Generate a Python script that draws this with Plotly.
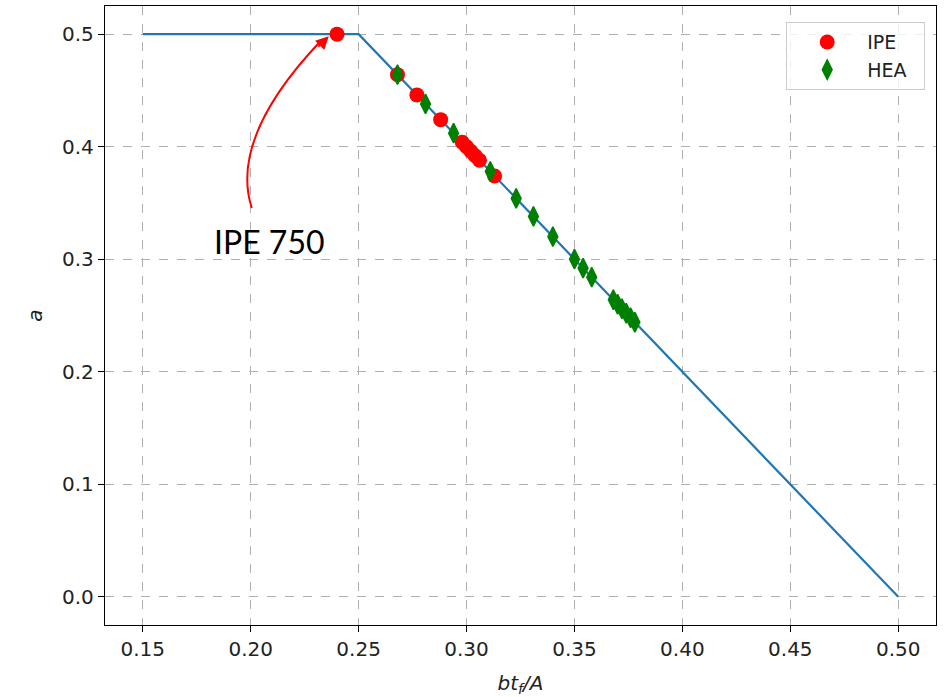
import plotly.graph_objects as go

# Limit curve
line_x = [0.15, 0.25, 0.50]
line_y = [0.50, 0.50, 0.00]

# IPE sections
ipe_x = [0.240, 0.268, 0.277, 0.288, 0.298, 0.300, 0.302, 0.304, 0.306, 0.313]
ipe_y = [0.500, 0.464, 0.446, 0.424, 0.404, 0.400, 0.396, 0.392, 0.388, 0.374]

# HEA sections
hea_x = [0.268, 0.281, 0.294, 0.311, 0.323, 0.331, 0.340, 0.350, 0.354, 0.358,
         0.368, 0.370, 0.372, 0.374, 0.376, 0.378]
hea_y = [0.464, 0.438, 0.412, 0.378, 0.354, 0.338, 0.320, 0.300, 0.292, 0.284,
         0.264, 0.260, 0.256, 0.252, 0.248, 0.244]

x_ticks = [0.15, 0.20, 0.25, 0.30, 0.35, 0.40, 0.45, 0.50]
y_ticks = [0.0, 0.1, 0.2, 0.3, 0.4, 0.5]

fig = go.Figure()
fig.add_trace(go.Scatter(x=line_x, y=line_y, mode="lines",
                         line=dict(color="#1f77b4", width=2.2), showlegend=False))
fig.add_trace(go.Scatter(x=ipe_x, y=ipe_y, mode="markers", name="IPE  ",
                         marker=dict(symbol="circle", color="red", size=15)))
fig.add_trace(go.Scatter(x=hea_x, y=hea_y, mode="markers", name="HEA  ",
                         marker=dict(symbol="diamond-tall", color="green", size=14,
                                     line=dict(color="green", width=1.5))))

# curved annotation arrow (quadratic curve) + arrowhead
fig.add_shape(type="path", xref="x", yref="y",
              path="M 0.2005,0.3455 Q 0.1899,0.4085 0.2330,0.4950",
              line=dict(color="red", width=2))
fig.add_annotation(x=0.2362, y=0.4982, xref="x", yref="y", text="",
                   showarrow=True, ax=-12, ay=12, arrowhead=2, arrowsize=1.3,
                   arrowwidth=2, arrowcolor="red", standoff=0)
fig.add_annotation(x=0.2085, y=0.316, xref="x", yref="y", text="IPE 750",
                   showarrow=False, font=dict(family="Lato", size=32, color="black"))

axis_common = dict(showline=True, linecolor="black", linewidth=1.3, mirror=True,
                   ticks="outside", ticklen=6, tickcolor="black",
                   showgrid=True, gridcolor="#b0b0b0", griddash="dash", gridwidth=1,
                   zeroline=False,
                   tickfont=dict(family="DejaVu Sans", size=20, color="#222"))

fig.update_xaxes(range=[0.1325, 0.5175], tickvals=x_ticks,
                 ticktext=[f"{v:.2f}" for v in x_ticks],
                 title=dict(text="<i>bt<sub>f</sub>/A</i>", standoff=18,
                            font=dict(family="DejaVu Sans", size=20, color="#222")),
                 **axis_common)
fig.update_yaxes(range=[-0.025, 0.525], tickvals=y_ticks,
                 ticktext=[f"{v:.1f}" for v in y_ticks],
                 title=dict(text="<i>a</i>", standoff=14,
                            font=dict(family="DejaVu Sans", size=20, color="#222")),
                 **axis_common)

fig.update_layout(width=945, height=697, plot_bgcolor="white", paper_bgcolor="white",
                  margin=dict(l=105, r=9, t=6, b=72, autoexpand=False),
                  legend=dict(x=0.987, y=0.974, xanchor="right", yanchor="top",
                              bgcolor="rgba(255,255,255,0.8)", bordercolor="#cccccc",
                              borderwidth=1, font=dict(family="DejaVu Sans", size=19, color="#222"),
                              itemwidth=70, tracegroupgap=0))

fig.write_html("out.html", config={"displayModeBar": False},
               post_script="document.body.style.margin='0px';")
